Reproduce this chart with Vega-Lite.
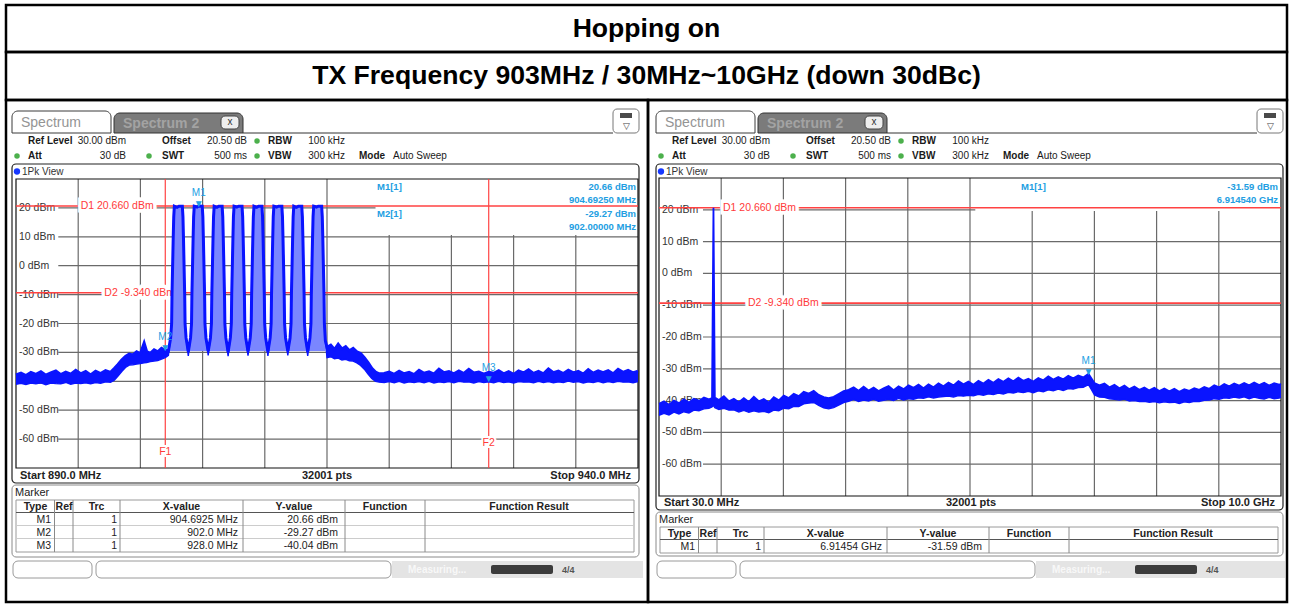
{
"$schema":"https://vega.github.io/schema/vega-lite/v6.json",
"padding":{"left":4,"top":3,"right":5,"bottom":4},
"background":"#ffffff",
"spacing":0,
"bounds":"flush",
"config":{"view":{"stroke":"#000000","strokeWidth":2.5},"axis":{"disable":true},"legend":{"disable":true},"font":"Liberation Sans"},
"datasets":{
"titles":[{"row":1,"t":"Hopping on"},{"row":2,"t":"TX Frequency 903MHz / 30MHz~10GHz (down 30dBc)"}],
"settings":[{"row":"r1","grp":"g1","label":"Ref Level","value":"30.00 dBm","led":0},{"row":"r1","grp":"g2","label":"Offset","value":"20.50 dB","led":0},{"row":"r1","grp":"g3","label":"RBW","value":"100 kHz","led":1},{"row":"r2","grp":"g1","label":"Att","value":"30 dB","led":1},{"row":"r2","grp":"g2","label":"SWT","value":"500 ms","led":1},{"row":"r2","grp":"g3","label":"VBW","value":"300 kHz","led":1},{"row":"r2","grp":"g4","label":"Mode","value":"Auto Sweep","led":0}],
"gridH":[{"db":20,"lab":"20 dBm"},{"db":10,"lab":"10 dBm"},{"db":0,"lab":"0 dBm"},{"db":-10,"lab":"-10 dBm"},{"db":-20,"lab":"-20 dBm"},{"db":-30,"lab":"-30 dBm"},{"db":-40,"lab":"-40 dBm"},{"db":-50,"lab":"-50 dBm"},{"db":-60,"lab":"-60 dBm"}],
"gridVL":[{"f":895},{"f":900},{"f":905},{"f":910},{"f":915},{"f":920},{"f":925},{"f":930},{"f":935}],
"gridVR":[{"f":1027},{"f":2024},{"f":3021},{"f":4018},{"f":5015},{"f":6012},{"f":7009},{"f":8006},{"f":9003}],
"dlines":[{"d":"D1","db":20.66,"lab":"D1  20.660 dBm"},{"d":"D2","db":-9.34,"lab":"D2  -9.340 dBm"}],
"flinesL":[{"fl":"F1","f":902},{"fl":"F2","f":928}],
"markersL":[{"m":"M1","trc":"1","f":904.6925,"db":20.66,"xv":"904.6925 MHz","yv":"20.66 dBm"},{"m":"M2","trc":"1","f":902.0,"db":-29.27,"xv":"902.0 MHz","yv":"-29.27 dBm"},{"m":"M3","trc":"1","f":928.0,"db":-40.04,"xv":"928.0 MHz","yv":"-40.04 dBm"}],
"markersR":[{"m":"M1","trc":"1","f":6914.54,"db":-31.59,"xv":"6.91454 GHz","yv":"-31.59 dBm"}],
"readoutL":[{"line":1,"lab":"M1[1]","val":"20.66 dBm"},{"line":2,"lab":"","val":"904.69250 MHz"},{"line":3,"lab":"M2[1]","val":"-29.27 dBm"},{"line":4,"lab":"","val":"902.00000 MHz"}],
"readoutR":[{"line":1,"lab":"M1[1]","val":"-31.59 dBm"},{"line":2,"lab":"","val":"6.914540 GHz"}],
"spanL":[{"start":"Start 890.0 MHz","pts":"32001 pts","stop":"Stop 940.0 MHz"}],
"spanR":[{"start":"Start 30.0 MHz","pts":"32001 pts","stop":"Stop 10.0 GHz"}],
"traceL":[
{"f":890.0,"lo":-41.0,"hi":-37.8},{"f":890.4,"lo":-40.7,"hi":-37.2},{"f":890.8,"lo":-41.1,"hi":-38.0},{"f":891.2,"lo":-40.6,"hi":-36.9},{"f":891.6,"lo":-40.9,"hi":-37.6},{"f":892.0,"lo":-40.5,"hi":-36.7},{"f":892.4,"lo":-41.2,"hi":-37.9},{"f":892.8,"lo":-40.6,"hi":-37.1},{"f":893.2,"lo":-40.8,"hi":-36.4},{"f":893.6,"lo":-40.9,"hi":-37.7},{"f":894.0,"lo":-40.4,"hi":-36.8},{"f":894.4,"lo":-41.0,"hi":-37.5},{"f":894.8,"lo":-40.6,"hi":-36.2},{"f":895.2,"lo":-40.8,"hi":-37.4},{"f":895.6,"lo":-40.5,"hi":-36.6},{"f":896.0,"lo":-40.9,"hi":-37.8},{"f":896.4,"lo":-40.4,"hi":-36.5},{"f":896.8,"lo":-40.7,"hi":-37.3},{"f":897.2,"lo":-40.2,"hi":-36.3},{"f":897.6,"lo":-40.3,"hi":-36.9},
{"f":897.9,"lo":-39.6,"hi":-35.6},{"f":898.2,"lo":-38.2,"hi":-34.2},{"f":898.5,"lo":-36.6,"hi":-32.6},{"f":898.8,"lo":-35.2,"hi":-31.4},{"f":899.1,"lo":-34.4,"hi":-30.6},
{"f":899.4,"lo":-34.3,"hi":-30.9},{"f":899.7,"lo":-34.0,"hi":-29.8},{"f":900.0,"lo":-33.9,"hi":-30.5},{"f":900.3,"lo":-33.6,"hi":-26.8},{"f":900.5,"lo":-33.5,"hi":-29.7},{"f":900.8,"lo":-33.2,"hi":-30.3},{"f":901.1,"lo":-33.0,"hi":-29.1},{"f":901.4,"lo":-32.8,"hi":-29.8},{"f":901.7,"lo":-32.3,"hi":-28.6},{"f":902.0,"lo":-31.8,"hi":-29.27},
{"f":902.25,"lo":-31.0,"hi":-29.5},{"f":902.43,"lo":-25,"hi":-25},{"f":902.51,"lo":-20,"hi":-20},{"f":902.54,"lo":-10,"hi":-10},{"f":902.59,"lo":0,"hi":0},{"f":902.64,"lo":10,"hi":10},{"f":902.68,"lo":17,"hi":17},{"f":902.73,"lo":20.6,"hi":20.6},{"f":902.95,"lo":20.2,"hi":20.2},{"f":903.10,"lo":20.6,"hi":20.6},{"f":903.37,"lo":20.6,"hi":20.6},{"f":903.42,"lo":17,"hi":17},{"f":903.46,"lo":10,"hi":10},{"f":903.51,"lo":0,"hi":0},{"f":903.56,"lo":-10,"hi":-10},{"f":903.59,"lo":-20,"hi":-20},{"f":903.67,"lo":-25,"hi":-25},{"f":903.85,"lo":-31.2,"hi":-29.8},
{"f":904.03,"lo":-25,"hi":-25},{"f":904.11,"lo":-20,"hi":-20},{"f":904.14,"lo":-10,"hi":-10},{"f":904.19,"lo":0,"hi":0},{"f":904.24,"lo":10,"hi":10},{"f":904.28,"lo":17,"hi":17},{"f":904.33,"lo":20.6,"hi":20.6},{"f":904.55,"lo":20.3,"hi":20.3},{"f":904.69,"lo":20.66,"hi":20.66},{"f":904.97,"lo":20.6,"hi":20.6},{"f":905.02,"lo":17,"hi":17},{"f":905.06,"lo":10,"hi":10},{"f":905.11,"lo":0,"hi":0},{"f":905.16,"lo":-10,"hi":-10},{"f":905.19,"lo":-20,"hi":-20},{"f":905.27,"lo":-25,"hi":-25},{"f":905.45,"lo":-31.0,"hi":-29.6},
{"f":905.63,"lo":-25,"hi":-25},{"f":905.71,"lo":-20,"hi":-20},{"f":905.74,"lo":-10,"hi":-10},{"f":905.79,"lo":0,"hi":0},{"f":905.84,"lo":10,"hi":10},{"f":905.88,"lo":17,"hi":17},{"f":905.93,"lo":20.6,"hi":20.6},{"f":906.15,"lo":20.2,"hi":20.2},{"f":906.30,"lo":20.6,"hi":20.6},{"f":906.57,"lo":20.6,"hi":20.6},{"f":906.62,"lo":17,"hi":17},{"f":906.66,"lo":10,"hi":10},{"f":906.71,"lo":0,"hi":0},{"f":906.76,"lo":-10,"hi":-10},{"f":906.79,"lo":-20,"hi":-20},{"f":906.87,"lo":-25,"hi":-25},{"f":907.05,"lo":-31.3,"hi":-29.9},
{"f":907.23,"lo":-25,"hi":-25},{"f":907.31,"lo":-20,"hi":-20},{"f":907.34,"lo":-10,"hi":-10},{"f":907.39,"lo":0,"hi":0},{"f":907.44,"lo":10,"hi":10},{"f":907.48,"lo":17,"hi":17},{"f":907.53,"lo":20.6,"hi":20.6},{"f":907.75,"lo":20.3,"hi":20.3},{"f":907.90,"lo":20.6,"hi":20.6},{"f":908.17,"lo":20.6,"hi":20.6},{"f":908.22,"lo":17,"hi":17},{"f":908.26,"lo":10,"hi":10},{"f":908.31,"lo":0,"hi":0},{"f":908.36,"lo":-10,"hi":-10},{"f":908.39,"lo":-20,"hi":-20},{"f":908.47,"lo":-25,"hi":-25},{"f":908.65,"lo":-31.1,"hi":-29.7},
{"f":908.83,"lo":-25,"hi":-25},{"f":908.91,"lo":-20,"hi":-20},{"f":908.94,"lo":-10,"hi":-10},{"f":908.99,"lo":0,"hi":0},{"f":909.04,"lo":10,"hi":10},{"f":909.08,"lo":17,"hi":17},{"f":909.13,"lo":20.6,"hi":20.6},{"f":909.35,"lo":20.2,"hi":20.2},{"f":909.50,"lo":20.6,"hi":20.6},{"f":909.77,"lo":20.6,"hi":20.6},{"f":909.82,"lo":17,"hi":17},{"f":909.86,"lo":10,"hi":10},{"f":909.91,"lo":0,"hi":0},{"f":909.96,"lo":-10,"hi":-10},{"f":909.99,"lo":-20,"hi":-20},{"f":910.07,"lo":-25,"hi":-25},{"f":910.25,"lo":-31.2,"hi":-29.8},
{"f":910.43,"lo":-25,"hi":-25},{"f":910.51,"lo":-20,"hi":-20},{"f":910.54,"lo":-10,"hi":-10},{"f":910.59,"lo":0,"hi":0},{"f":910.64,"lo":10,"hi":10},{"f":910.68,"lo":17,"hi":17},{"f":910.73,"lo":20.6,"hi":20.6},{"f":910.95,"lo":20.3,"hi":20.3},{"f":911.10,"lo":20.6,"hi":20.6},{"f":911.37,"lo":20.6,"hi":20.6},{"f":911.42,"lo":17,"hi":17},{"f":911.46,"lo":10,"hi":10},{"f":911.51,"lo":0,"hi":0},{"f":911.56,"lo":-10,"hi":-10},{"f":911.59,"lo":-20,"hi":-20},{"f":911.67,"lo":-25,"hi":-25},{"f":911.85,"lo":-31.0,"hi":-29.6},
{"f":912.03,"lo":-25,"hi":-25},{"f":912.11,"lo":-20,"hi":-20},{"f":912.14,"lo":-10,"hi":-10},{"f":912.19,"lo":0,"hi":0},{"f":912.24,"lo":10,"hi":10},{"f":912.28,"lo":17,"hi":17},{"f":912.33,"lo":20.6,"hi":20.6},{"f":912.55,"lo":20.2,"hi":20.2},{"f":912.70,"lo":20.6,"hi":20.6},{"f":912.97,"lo":20.6,"hi":20.6},{"f":913.02,"lo":17,"hi":17},{"f":913.06,"lo":10,"hi":10},{"f":913.11,"lo":0,"hi":0},{"f":913.16,"lo":-10,"hi":-10},{"f":913.19,"lo":-20,"hi":-20},{"f":913.27,"lo":-25,"hi":-25},{"f":913.45,"lo":-31.2,"hi":-29.8},
{"f":913.63,"lo":-25,"hi":-25},{"f":913.71,"lo":-20,"hi":-20},{"f":913.74,"lo":-10,"hi":-10},{"f":913.79,"lo":0,"hi":0},{"f":913.84,"lo":10,"hi":10},{"f":913.88,"lo":17,"hi":17},{"f":913.93,"lo":20.6,"hi":20.6},{"f":914.15,"lo":20.3,"hi":20.3},{"f":914.30,"lo":20.6,"hi":20.6},{"f":914.57,"lo":20.6,"hi":20.6},{"f":914.62,"lo":17,"hi":17},{"f":914.66,"lo":10,"hi":10},{"f":914.71,"lo":0,"hi":0},{"f":914.76,"lo":-10,"hi":-10},{"f":914.79,"lo":-20,"hi":-20},{"f":914.87,"lo":-26,"hi":-26},
{"f":915.0,"lo":-31.8,"hi":-28.2},{"f":915.3,"lo":-31.5,"hi":-27.5},{"f":915.6,"lo":-32.2,"hi":-29.0},{"f":915.9,"lo":-32.0,"hi":-27.2},{"f":916.2,"lo":-32.6,"hi":-28.8},{"f":916.5,"lo":-32.4,"hi":-28.0},{"f":916.8,"lo":-32.9,"hi":-29.4},{"f":917.1,"lo":-33.0,"hi":-28.6},{"f":917.4,"lo":-33.6,"hi":-29.8},{"f":917.7,"lo":-34.5,"hi":-30.4},{"f":918.0,"lo":-35.8,"hi":-31.8},{"f":918.3,"lo":-37.5,"hi":-33.5},{"f":918.6,"lo":-39.0,"hi":-35.5},{"f":918.9,"lo":-40.0,"hi":-36.8},{"f":919.2,"lo":-40.3,"hi":-37.4},
{"f":919.6,"lo":-40.4,"hi":-37.3},{"f":920.0,"lo":-40.1,"hi":-36.8},{"f":920.4,"lo":-40.5,"hi":-37.6},{"f":920.8,"lo":-40.0,"hi":-36.5},{"f":921.2,"lo":-40.6,"hi":-37.4},{"f":921.6,"lo":-40.2,"hi":-36.9},{"f":922.0,"lo":-40.4,"hi":-37.7},{"f":922.4,"lo":-40.1,"hi":-36.2},{"f":922.8,"lo":-40.5,"hi":-37.2},{"f":923.2,"lo":-40.0,"hi":-36.7},{"f":923.6,"lo":-40.6,"hi":-37.5},{"f":924.0,"lo":-40.2,"hi":-35.8},{"f":924.4,"lo":-40.4,"hi":-37.0},{"f":924.8,"lo":-40.1,"hi":-36.6},{"f":925.2,"lo":-40.5,"hi":-37.4},{"f":925.6,"lo":-40.0,"hi":-36.4},{"f":926.0,"lo":-40.3,"hi":-37.3},{"f":926.4,"lo":-40.2,"hi":-35.9},{"f":926.8,"lo":-40.6,"hi":-37.1},{"f":927.2,"lo":-40.1,"hi":-36.8},{"f":927.6,"lo":-40.4,"hi":-37.5},{"f":928.0,"lo":-40.2,"hi":-36.9},{"f":928.4,"lo":-40.5,"hi":-37.2},{"f":928.8,"lo":-40.0,"hi":-36.3},{"f":929.2,"lo":-40.4,"hi":-37.4},{"f":929.6,"lo":-40.2,"hi":-36.7},{"f":930.0,"lo":-40.6,"hi":-37.6},{"f":930.4,"lo":-40.1,"hi":-36.4},{"f":930.8,"lo":-40.3,"hi":-37.1},{"f":931.2,"lo":-40.2,"hi":-36.0},{"f":931.6,"lo":-40.5,"hi":-37.3},{"f":932.0,"lo":-40.0,"hi":-36.6},{"f":932.4,"lo":-40.4,"hi":-37.4},{"f":932.8,"lo":-40.1,"hi":-35.7},{"f":933.2,"lo":-40.5,"hi":-37.0},{"f":933.6,"lo":-40.2,"hi":-36.5},{"f":934.0,"lo":-40.4,"hi":-37.3},{"f":934.4,"lo":-39.9,"hi":-36.2},{"f":934.8,"lo":-40.3,"hi":-37.1},{"f":935.2,"lo":-40.1,"hi":-36.6},{"f":935.6,"lo":-40.6,"hi":-37.5},{"f":936.0,"lo":-40.2,"hi":-36.0},{"f":936.4,"lo":-40.4,"hi":-37.2},{"f":936.8,"lo":-40.0,"hi":-36.4},{"f":937.2,"lo":-40.5,"hi":-37.0},{"f":937.6,"lo":-40.1,"hi":-36.3},{"f":938.0,"lo":-40.4,"hi":-37.4},{"f":938.4,"lo":-40.0,"hi":-35.9},{"f":938.8,"lo":-40.3,"hi":-36.9},{"f":939.2,"lo":-40.2,"hi":-36.2},{"f":939.6,"lo":-40.5,"hi":-37.1},{"f":940.0,"lo":-40.1,"hi":-36.5}],
"traceR":[
{"f":30,"lo":-44.6,"hi":-41.0},{"f":110,"lo":-44.0,"hi":-40.2},{"f":190,"lo":-44.5,"hi":-41.3},{"f":270,"lo":-43.6,"hi":-40.0},{"f":350,"lo":-44.2,"hi":-40.8},{"f":430,"lo":-43.5,"hi":-39.6},{"f":510,"lo":-43.9,"hi":-40.6},{"f":590,"lo":-43.0,"hi":-39.4},{"f":670,"lo":-43.2,"hi":-40.1},{"f":750,"lo":-42.6,"hi":-39.0},{"f":830,"lo":-42.4,"hi":-39.6},{"f":880,"lo":-42.0,"hi":-39.2},{"f":903,"lo":-41.5,"hi":20.66},{"f":925,"lo":-42.2,"hi":-39.0},{"f":990,"lo":-42.8,"hi":-39.8},{"f":1070,"lo":-42.4,"hi":-38.6},{"f":1150,"lo":-43.0,"hi":-40.2},{"f":1230,"lo":-42.9,"hi":-39.4},{"f":1310,"lo":-43.6,"hi":-40.5},{"f":1390,"lo":-43.1,"hi":-39.2},{"f":1470,"lo":-43.7,"hi":-40.4},{"f":1550,"lo":-43.2,"hi":-38.8},{"f":1630,"lo":-43.6,"hi":-40.2},{"f":1710,"lo":-43.4,"hi":-39.5},{"f":1790,"lo":-43.8,"hi":-40.6},{"f":1870,"lo":-43.0,"hi":-38.9},{"f":1950,"lo":-43.2,"hi":-39.9},{"f":2030,"lo":-42.4,"hi":-38.4},{"f":2110,"lo":-42.6,"hi":-39.2},{"f":2190,"lo":-41.8,"hi":-37.9},{"f":2270,"lo":-41.9,"hi":-38.6},{"f":2350,"lo":-41.0,"hi":-37.2},{"f":2430,"lo":-40.8,"hi":-37.8},{"f":2510,"lo":-40.6,"hi":-36.9},{"f":2590,"lo":-41.5,"hi":-38.2},{"f":2670,"lo":-42.3,"hi":-38.9},{"f":2750,"lo":-42.6,"hi":-39.2},{"f":2830,"lo":-42.2,"hi":-38.8},{"f":2910,"lo":-41.4,"hi":-37.9},{"f":2990,"lo":-40.6,"hi":-37.0},{"f":3070,"lo":-40.2,"hi":-36.6},{"f":3150,"lo":-39.6,"hi":-35.8},{"f":3230,"lo":-40.3,"hi":-36.9},{"f":3310,"lo":-39.8,"hi":-35.6},{"f":3390,"lo":-40.1,"hi":-36.8},{"f":3470,"lo":-39.5,"hi":-35.9},{"f":3550,"lo":-40.2,"hi":-37.0},{"f":3630,"lo":-39.9,"hi":-36.1},{"f":3710,"lo":-39.6,"hi":-35.4},{"f":3790,"lo":-40.0,"hi":-36.7},{"f":3870,"lo":-39.3,"hi":-35.5},{"f":3950,"lo":-39.8,"hi":-36.4},{"f":4030,"lo":-39.4,"hi":-35.2},{"f":4110,"lo":-39.6,"hi":-36.0},{"f":4190,"lo":-39.1,"hi":-35.0},{"f":4270,"lo":-39.3,"hi":-36.1},{"f":4350,"lo":-38.8,"hi":-34.9},{"f":4430,"lo":-39.2,"hi":-35.8},{"f":4510,"lo":-38.9,"hi":-34.6},{"f":4590,"lo":-38.7,"hi":-35.5},{"f":4670,"lo":-38.6,"hi":-34.3},{"f":4750,"lo":-38.9,"hi":-35.2},{"f":4830,"lo":-38.4,"hi":-33.9},{"f":4910,"lo":-38.6,"hi":-34.9},{"f":4990,"lo":-38.3,"hi":-34.0},{"f":5070,"lo":-38.5,"hi":-35.0},{"f":5150,"lo":-38.0,"hi":-33.8},{"f":5230,"lo":-38.3,"hi":-34.6},{"f":5310,"lo":-37.9,"hi":-33.5},{"f":5390,"lo":-38.1,"hi":-34.4},{"f":5470,"lo":-37.6,"hi":-33.2},{"f":5550,"lo":-37.9,"hi":-34.1},{"f":5630,"lo":-37.4,"hi":-33.0},{"f":5710,"lo":-37.6,"hi":-33.9},{"f":5790,"lo":-37.2,"hi":-32.8},{"f":5870,"lo":-37.5,"hi":-33.8},{"f":5950,"lo":-37.1,"hi":-33.1},{"f":6030,"lo":-37.5,"hi":-34.0},{"f":6110,"lo":-36.9,"hi":-32.9},{"f":6190,"lo":-37.2,"hi":-33.6},{"f":6270,"lo":-36.6,"hi":-32.4},{"f":6350,"lo":-36.9,"hi":-33.4},{"f":6430,"lo":-36.4,"hi":-32.6},{"f":6510,"lo":-36.8,"hi":-33.3},{"f":6590,"lo":-36.2,"hi":-32.2},{"f":6670,"lo":-36.4,"hi":-33.0},{"f":6750,"lo":-35.9,"hi":-32.1},{"f":6830,"lo":-35.8,"hi":-32.7},{"f":6914,"lo":-35.0,"hi":-31.59},{"f":6960,"lo":-36.5,"hi":-33.0},{"f":7010,"lo":-38.2,"hi":-34.5},{"f":7090,"lo":-38.9,"hi":-35.2},{"f":7170,"lo":-39.0,"hi":-34.6},{"f":7250,"lo":-39.4,"hi":-35.8},{"f":7330,"lo":-39.6,"hi":-35.0},{"f":7410,"lo":-39.8,"hi":-36.1},{"f":7490,"lo":-39.5,"hi":-35.3},{"f":7570,"lo":-40.1,"hi":-36.4},{"f":7650,"lo":-40.0,"hi":-35.6},{"f":7730,"lo":-40.3,"hi":-36.6},{"f":7810,"lo":-40.2,"hi":-35.9},{"f":7890,"lo":-40.5,"hi":-36.8},{"f":7970,"lo":-40.3,"hi":-36.0},{"f":8050,"lo":-40.7,"hi":-37.0},{"f":8130,"lo":-40.4,"hi":-36.2},{"f":8210,"lo":-40.6,"hi":-37.1},{"f":8290,"lo":-40.5,"hi":-36.3},{"f":8370,"lo":-40.9,"hi":-37.2},{"f":8450,"lo":-40.4,"hi":-36.4},{"f":8530,"lo":-40.6,"hi":-36.9},{"f":8610,"lo":-40.2,"hi":-36.1},{"f":8690,"lo":-40.3,"hi":-36.6},{"f":8770,"lo":-39.9,"hi":-35.7},{"f":8850,"lo":-39.8,"hi":-36.3},{"f":8930,"lo":-39.4,"hi":-35.2},{"f":9010,"lo":-39.6,"hi":-35.8},{"f":9090,"lo":-39.1,"hi":-34.8},{"f":9170,"lo":-39.3,"hi":-35.5},{"f":9250,"lo":-38.9,"hi":-34.6},{"f":9330,"lo":-39.2,"hi":-35.3},{"f":9410,"lo":-38.8,"hi":-34.5},{"f":9490,"lo":-39.4,"hi":-35.2},{"f":9570,"lo":-38.9,"hi":-34.3},{"f":9650,"lo":-39.3,"hi":-35.1},{"f":9730,"lo":-39.5,"hi":-34.4},{"f":9810,"lo":-39.0,"hi":-35.3},{"f":9890,"lo":-39.4,"hi":-34.5},{"f":9970,"lo":-39.2,"hi":-35.0},{"f":10000,"lo":-39.0,"hi":-34.7}]
},
"vconcat":[
{"width":1281,"height":47,"data":{"name":"titles"},"transform":[{"filter":"datum.row==1"}],"mark":{"type":"text","fontSize":26.6,"fontWeight":"bold","fill":"#000000"},"encoding":{"x":{"datum":0.5,"type":"quantitative","scale":{"domain":[0,1],"nice":false,"zero":false}},"y":{"datum":0.5,"type":"quantitative","scale":{"domain":[0,1],"nice":false,"zero":false}},"text":{"field":"t"}}},
{"width":1281,"height":48,"data":{"name":"titles"},"transform":[{"filter":"datum.row==2"}],"mark":{"type":"text","fontSize":26.6,"fontWeight":"bold","fill":"#000000"},"encoding":{"x":{"datum":0.5,"type":"quantitative","scale":{"domain":[0,1],"nice":false,"zero":false}},"y":{"datum":0.5,"type":"quantitative","scale":{"domain":[0,1],"nice":false,"zero":false}},"text":{"field":"t"}}},
{"hconcat":[
{"width":642,"height":502,"resolve":{"scale":{"x":"independent","y":"independent"}},"layer":[
{"data":{"values":[{"k":"tab1"}]},"mark":{"type":"rect","fill":"#ffffff","stroke":"#3a3a3a","strokeWidth":1,"cornerRadiusTopLeft":6,"cornerRadiusTopRight":6},"encoding":{"x":{"datum":6,"type":"quantitative","scale":{"domain":[0,642],"range":[0,642],"nice":false,"zero":false}},"x2":{"datum":105},"y":{"datum":11,"type":"quantitative","scale":{"domain":[0,502],"range":[0,502],"nice":false,"zero":false}},"y2":{"datum":33}}},
{"data":{"values":[{"k":"tab2"}]},"mark":{"type":"rect","fill":"#7b7b7b","stroke":"#333333","strokeWidth":1,"cornerRadiusTopLeft":6,"cornerRadiusTopRight":6},"encoding":{"x":{"datum":108,"type":"quantitative","scale":{"domain":[0,642],"range":[0,642],"nice":false,"zero":false}},"x2":{"datum":237},"y":{"datum":13,"type":"quantitative","scale":{"domain":[0,502],"range":[0,502],"nice":false,"zero":false}},"y2":{"datum":33}}},
{"data":{"values":[{"k":"xbtn"}]},"mark":{"type":"rect","fill":"#eeeeee","stroke":"#444444","strokeWidth":1,"cornerRadius":4},"encoding":{"x":{"datum":215,"type":"quantitative","scale":{"domain":[0,642],"range":[0,642],"nice":false,"zero":false}},"x2":{"datum":233},"y":{"datum":16,"type":"quantitative","scale":{"domain":[0,502],"range":[0,502],"nice":false,"zero":false}},"y2":{"datum":29}}},
{"data":{"values":[{"k":"icon"}]},"mark":{"type":"rect","fill":"#ffffff","stroke":"#777777","strokeWidth":1,"cornerRadius":4},"encoding":{"x":{"datum":607,"type":"quantitative","scale":{"domain":[0,642],"range":[0,642],"nice":false,"zero":false}},"x2":{"datum":633},"y":{"datum":9,"type":"quantitative","scale":{"domain":[0,502],"range":[0,502],"nice":false,"zero":false}},"y2":{"datum":33}}},
{"data":{"values":[{"k":"icon2"}]},"mark":{"type":"rect","fill":"#4a4a4a"},"encoding":{"x":{"datum":614,"type":"quantitative","scale":{"domain":[0,642],"range":[0,642],"nice":false,"zero":false}},"x2":{"datum":626},"y":{"datum":13,"type":"quantitative","scale":{"domain":[0,502],"range":[0,502],"nice":false,"zero":false}},"y2":{"datum":18}}},
{"data":{"values":[{"k":"bar"}]},"mark":{"type":"rule","stroke":"#333333","strokeWidth":1},"encoding":{"x":{"datum":237,"type":"quantitative","scale":{"domain":[0,642],"range":[0,642],"nice":false,"zero":false}},"x2":{"datum":607},"y":{"datum":33,"type":"quantitative","scale":{"domain":[0,502],"range":[0,502],"nice":false,"zero":false}}}},
{"data":{"values":[{"t":"Spectrum"}]},"mark":{"type":"text","align":"left","fontSize":14,"fill":"#949494"},"encoding":{"x":{"datum":15,"type":"quantitative","scale":{"domain":[0,642],"range":[0,642],"nice":false,"zero":false}},"y":{"datum":23,"type":"quantitative","scale":{"domain":[0,502],"range":[0,502],"nice":false,"zero":false}},"text":{"field":"t"}}},
{"data":{"values":[{"t":"Spectrum 2"}]},"mark":{"type":"text","align":"left","fontSize":14,"fontWeight":"bold","fill":"#a3a3a3"},"encoding":{"x":{"datum":117,"type":"quantitative","scale":{"domain":[0,642],"range":[0,642],"nice":false,"zero":false}},"y":{"datum":23.5,"type":"quantitative","scale":{"domain":[0,502],"range":[0,502],"nice":false,"zero":false}},"text":{"field":"t"}}},
{"data":{"values":[{"t":"x"}]},"mark":{"type":"text","align":"center","fontSize":10,"fill":"#333333"},"encoding":{"x":{"datum":224,"type":"quantitative","scale":{"domain":[0,642],"range":[0,642],"nice":false,"zero":false}},"y":{"datum":22,"type":"quantitative","scale":{"domain":[0,502],"range":[0,502],"nice":false,"zero":false}},"text":{"field":"t"}}},
{"data":{"values":[{"t":"▽"}]},"mark":{"type":"text","align":"center","fontSize":9,"fill":"#444444"},"encoding":{"x":{"datum":620,"type":"quantitative","scale":{"domain":[0,642],"range":[0,642],"nice":false,"zero":false}},"y":{"datum":26,"type":"quantitative","scale":{"domain":[0,502],"range":[0,502],"nice":false,"zero":false}},"text":{"field":"t"}}},
{"data":{"name":"settings"},"layer":[
{"transform":[{"filter":"datum.grp=='g1'"}],"mark":{"type":"text","align":"left","fontSize":10,"fontWeight":"bold","fill":"#1a1a1a"},"encoding":{"x":{"datum":22,"type":"quantitative","scale":{"domain":[0,642],"range":[0,642],"nice":false,"zero":false}},"y":{"field":"row","type":"nominal","scale":{"type":"point","domain":["r1","r2"],"range":[41,56],"padding":0}},"text":{"field":"label"}}},
{"transform":[{"filter":"datum.grp=='g1'"}],"mark":{"type":"text","align":"right","fontSize":10,"fill":"#1a1a1a"},"encoding":{"x":{"datum":120,"type":"quantitative","scale":{"domain":[0,642],"range":[0,642],"nice":false,"zero":false}},"y":{"field":"row","type":"nominal","scale":{"type":"point","domain":["r1","r2"],"range":[41,56],"padding":0}},"text":{"field":"value"}}},
{"transform":[{"filter":"datum.grp=='g2'"}],"mark":{"type":"text","align":"left","fontSize":10,"fontWeight":"bold","fill":"#1a1a1a"},"encoding":{"x":{"datum":156,"type":"quantitative","scale":{"domain":[0,642],"range":[0,642],"nice":false,"zero":false}},"y":{"field":"row","type":"nominal","scale":{"type":"point","domain":["r1","r2"],"range":[41,56],"padding":0}},"text":{"field":"label"}}},
{"transform":[{"filter":"datum.grp=='g2'"}],"mark":{"type":"text","align":"right","fontSize":10,"fill":"#1a1a1a"},"encoding":{"x":{"datum":241,"type":"quantitative","scale":{"domain":[0,642],"range":[0,642],"nice":false,"zero":false}},"y":{"field":"row","type":"nominal","scale":{"type":"point","domain":["r1","r2"],"range":[41,56],"padding":0}},"text":{"field":"value"}}},
{"transform":[{"filter":"datum.grp=='g3'"}],"mark":{"type":"text","align":"left","fontSize":10,"fontWeight":"bold","fill":"#1a1a1a"},"encoding":{"x":{"datum":262,"type":"quantitative","scale":{"domain":[0,642],"range":[0,642],"nice":false,"zero":false}},"y":{"field":"row","type":"nominal","scale":{"type":"point","domain":["r1","r2"],"range":[41,56],"padding":0}},"text":{"field":"label"}}},
{"transform":[{"filter":"datum.grp=='g3'"}],"mark":{"type":"text","align":"right","fontSize":10,"fill":"#1a1a1a"},"encoding":{"x":{"datum":339,"type":"quantitative","scale":{"domain":[0,642],"range":[0,642],"nice":false,"zero":false}},"y":{"field":"row","type":"nominal","scale":{"type":"point","domain":["r1","r2"],"range":[41,56],"padding":0}},"text":{"field":"value"}}},
{"transform":[{"filter":"datum.grp=='g4'"}],"mark":{"type":"text","align":"left","fontSize":10,"fontWeight":"bold","fill":"#1a1a1a"},"encoding":{"x":{"datum":353,"type":"quantitative","scale":{"domain":[0,642],"range":[0,642],"nice":false,"zero":false}},"y":{"field":"row","type":"nominal","scale":{"type":"point","domain":["r1","r2"],"range":[41,56],"padding":0}},"text":{"field":"label"}}},
{"transform":[{"filter":"datum.grp=='g4'"}],"mark":{"type":"text","align":"left","fontSize":10,"fill":"#1a1a1a"},"encoding":{"x":{"datum":387,"type":"quantitative","scale":{"domain":[0,642],"range":[0,642],"nice":false,"zero":false}},"y":{"field":"row","type":"nominal","scale":{"type":"point","domain":["r1","r2"],"range":[41,56],"padding":0}},"text":{"field":"value"}}},
{"transform":[{"filter":"datum.grp=='g1' && datum.led==1"}],"mark":{"type":"point","filled":true,"size":30,"color":"#4cb04c","opacity":1},"encoding":{"x":{"datum":11,"type":"quantitative","scale":{"domain":[0,642],"range":[0,642],"nice":false,"zero":false}},"y":{"field":"row","type":"nominal","scale":{"type":"point","domain":["r1","r2"],"range":[41,56],"padding":0}}}},
{"transform":[{"filter":"datum.grp=='g2' && datum.led==1"}],"mark":{"type":"point","filled":true,"size":30,"color":"#4cb04c","opacity":1},"encoding":{"x":{"datum":143,"type":"quantitative","scale":{"domain":[0,642],"range":[0,642],"nice":false,"zero":false}},"y":{"field":"row","type":"nominal","scale":{"type":"point","domain":["r1","r2"],"range":[41,56],"padding":0}}}},
{"transform":[{"filter":"datum.grp=='g3' && datum.led==1"}],"mark":{"type":"point","filled":true,"size":30,"color":"#4cb04c","opacity":1},"encoding":{"x":{"datum":251,"type":"quantitative","scale":{"domain":[0,642],"range":[0,642],"nice":false,"zero":false}},"y":{"field":"row","type":"nominal","scale":{"type":"point","domain":["r1","r2"],"range":[41,56],"padding":0}}}}
]},
{"data":{"values":[{"k":"frame"}]},"mark":{"type":"rect","fill":"#ffffff","stroke":"#222222","strokeWidth":1.2,"cornerRadius":4},"encoding":{"x":{"datum":6,"type":"quantitative","scale":{"domain":[0,642],"range":[0,642],"nice":false,"zero":false}},"x2":{"datum":633},"y":{"datum":64,"type":"quantitative","scale":{"domain":[0,502],"range":[0,502],"nice":false,"zero":false}},"y2":{"datum":383}}},
{"data":{"values":[{"t":"1Pk View"}]},"mark":{"type":"text","align":"left","fontSize":10,"fill":"#333333"},"encoding":{"x":{"datum":16,"type":"quantitative","scale":{"domain":[0,642],"range":[0,642],"nice":false,"zero":false}},"y":{"datum":71.5,"type":"quantitative","scale":{"domain":[0,502],"range":[0,502],"nice":false,"zero":false}},"text":{"field":"t"}}},
{"data":{"values":[{"k":"trc1"}]},"mark":{"type":"point","filled":true,"size":40,"color":"#1638ff","opacity":1},"encoding":{"x":{"datum":11,"type":"quantitative","scale":{"domain":[0,642],"range":[0,642],"nice":false,"zero":false}},"y":{"datum":71.5,"type":"quantitative","scale":{"domain":[0,502],"range":[0,502],"nice":false,"zero":false}}}},
{"layer":[
{"data":{"name":"gridVL"},"mark":{"type":"rule","stroke":"#6a6a6a","strokeWidth":1.2},"encoding":{"x":{"field":"f","type":"quantitative","scale":{"domain":[890,940],"range":[10,632],"nice":false,"zero":false}},"y":{"datum":-70,"type":"quantitative","scale":{"domain":[-70,30],"range":[368,79],"nice":false,"zero":false}},"y2":{"datum":30}}},
{"data":{"name":"gridH"},"mark":{"type":"rule","stroke":"#6a6a6a","strokeWidth":1.2},"encoding":{"x":{"datum":893.4,"type":"quantitative","scale":{"domain":[890,940],"range":[10,632],"nice":false,"zero":false}},"x2":{"datum":940},"y":{"field":"db","type":"quantitative","scale":{"domain":[-70,30],"range":[368,79],"nice":false,"zero":false}}}},
{"data":{"name":"gridH"},"mark":{"type":"text","align":"left","dx":3,"fontSize":10.5,"fill":"#333333"},"encoding":{"x":{"datum":890,"type":"quantitative","scale":{"domain":[890,940],"range":[10,632],"nice":false,"zero":false}},"y":{"field":"db","type":"quantitative","scale":{"domain":[-70,30],"range":[368,79],"nice":false,"zero":false}},"text":{"field":"lab"}}},
{"data":{"values":[{"k":"readoutbox"}]},"mark":{"type":"rect","fill":"#ffffff"},"encoding":{"x":{"datum":918.9,"type":"quantitative","scale":{"domain":[890,940],"range":[10,632],"nice":false,"zero":false}},"x2":{"datum":940},"y":{"datum":10.6,"type":"quantitative","scale":{"domain":[-70,30],"range":[368,79],"nice":false,"zero":false}},"y2":{"datum":30}}},
{"data":{"values":[{"k":"border"}]},"mark":{"type":"rect","fill":"transparent","stroke":"#111111","strokeWidth":1.2},"encoding":{"x":{"datum":890,"type":"quantitative","scale":{"domain":[890,940],"range":[10,632],"nice":false,"zero":false}},"x2":{"datum":940},"y":{"datum":-70,"type":"quantitative","scale":{"domain":[-70,30],"range":[368,79],"nice":false,"zero":false}},"y2":{"datum":30}}},
{"data":{"name":"dlines"},"mark":{"type":"rule","stroke":"#ff4242","strokeWidth":1.6},"encoding":{"x":{"datum":890,"type":"quantitative","scale":{"domain":[890,940],"range":[10,632],"nice":false,"zero":false}},"x2":{"datum":940},"y":{"field":"db","type":"quantitative","scale":{"domain":[-70,30],"range":[368,79],"nice":false,"zero":false}}}},
{"data":{"name":"flinesL"},"mark":{"type":"rule","stroke":"#ff4242","strokeWidth":1.2},"encoding":{"x":{"field":"f","type":"quantitative","scale":{"domain":[890,940],"range":[10,632],"nice":false,"zero":false}},"y":{"datum":-70,"type":"quantitative","scale":{"domain":[-70,30],"range":[368,79],"nice":false,"zero":false}},"y2":{"datum":30}}},
{"data":{"name":"dlines"},"transform":[{"filter":"datum.d=='D1'"}],"mark":{"type":"text","align":"left","fontSize":10.5,"fill":"#ffffff","stroke":"#ffffff","strokeWidth":7},"encoding":{"x":{"datum":895.2,"type":"quantitative","scale":{"domain":[890,940],"range":[10,632],"nice":false,"zero":false}},"y":{"field":"db","type":"quantitative","scale":{"domain":[-70,30],"range":[368,79],"nice":false,"zero":false}},"text":{"field":"lab"}}},
{"data":{"name":"dlines"},"transform":[{"filter":"datum.d=='D1'"}],"mark":{"type":"text","align":"left","fontSize":10.5,"fill":"#ff3a3a"},"encoding":{"x":{"datum":895.2,"type":"quantitative","scale":{"domain":[890,940],"range":[10,632],"nice":false,"zero":false}},"y":{"field":"db","type":"quantitative","scale":{"domain":[-70,30],"range":[368,79],"nice":false,"zero":false}},"text":{"field":"lab"}}},
{"data":{"name":"dlines"},"transform":[{"filter":"datum.d=='D2'"}],"mark":{"type":"text","align":"left","fontSize":10.5,"fill":"#ffffff","stroke":"#ffffff","strokeWidth":7},"encoding":{"x":{"datum":897.1,"type":"quantitative","scale":{"domain":[890,940],"range":[10,632],"nice":false,"zero":false}},"y":{"field":"db","type":"quantitative","scale":{"domain":[-70,30],"range":[368,79],"nice":false,"zero":false}},"text":{"field":"lab"}}},
{"data":{"name":"dlines"},"transform":[{"filter":"datum.d=='D2'"}],"mark":{"type":"text","align":"left","fontSize":10.5,"fill":"#ff3a3a"},"encoding":{"x":{"datum":897.1,"type":"quantitative","scale":{"domain":[890,940],"range":[10,632],"nice":false,"zero":false}},"y":{"field":"db","type":"quantitative","scale":{"domain":[-70,30],"range":[368,79],"nice":false,"zero":false}},"text":{"field":"lab"}}},
{"data":{"name":"flinesL"},"transform":[{"filter":"datum.fl=='F1'"}],"mark":{"type":"text","align":"center","fontSize":10.5,"fill":"#ffffff","stroke":"#ffffff","strokeWidth":4},"encoding":{"x":{"field":"f","type":"quantitative","scale":{"domain":[890,940],"range":[10,632],"nice":false,"zero":false}},"y":{"datum":-64.5,"type":"quantitative","scale":{"domain":[-70,30],"range":[368,79],"nice":false,"zero":false}},"text":{"field":"fl"}}},
{"data":{"name":"flinesL"},"transform":[{"filter":"datum.fl=='F1'"}],"mark":{"type":"text","align":"center","fontSize":10.5,"fill":"#ff3a3a"},"encoding":{"x":{"field":"f","type":"quantitative","scale":{"domain":[890,940],"range":[10,632],"nice":false,"zero":false}},"y":{"datum":-64.5,"type":"quantitative","scale":{"domain":[-70,30],"range":[368,79],"nice":false,"zero":false}},"text":{"field":"fl"}}},
{"data":{"name":"flinesL"},"transform":[{"filter":"datum.fl=='F2'"}],"mark":{"type":"text","align":"center","fontSize":10.5,"fill":"#ffffff","stroke":"#ffffff","strokeWidth":4},"encoding":{"x":{"field":"f","type":"quantitative","scale":{"domain":[890,940],"range":[10,632],"nice":false,"zero":false}},"y":{"datum":-61.3,"type":"quantitative","scale":{"domain":[-70,30],"range":[368,79],"nice":false,"zero":false}},"text":{"field":"fl"}}},
{"data":{"name":"flinesL"},"transform":[{"filter":"datum.fl=='F2'"}],"mark":{"type":"text","align":"center","fontSize":10.5,"fill":"#ff3a3a"},"encoding":{"x":{"field":"f","type":"quantitative","scale":{"domain":[890,940],"range":[10,632],"nice":false,"zero":false}},"y":{"datum":-61.3,"type":"quantitative","scale":{"domain":[-70,30],"range":[368,79],"nice":false,"zero":false}},"text":{"field":"fl"}}},
{"data":{"name":"traceL"},"transform":[{"filter":"datum.f>=902.25 && datum.f<=914.87"}],"mark":{"type":"area","fill":"#7a86ff","opacity":1},"encoding":{"x":{"field":"f","type":"quantitative","scale":{"domain":[890,940],"range":[10,632],"nice":false,"zero":false}},"y":{"field":"hi","type":"quantitative","scale":{"domain":[-70,30],"range":[368,79],"nice":false,"zero":false}},"y2":{"datum":-29.5}}},
{"data":{"name":"traceL"},"mark":{"type":"area","fill":"#0a14ff","opacity":1},"encoding":{"x":{"field":"f","type":"quantitative","scale":{"domain":[890,940],"range":[10,632],"nice":false,"zero":false}},"y":{"field":"lo","type":"quantitative","scale":{"domain":[-70,30],"range":[368,79],"nice":false,"zero":false}},"y2":{"field":"hi"}}},
{"data":{"name":"traceL"},"mark":{"type":"line","stroke":"#0a14ff","strokeWidth":3},"encoding":{"x":{"field":"f","type":"quantitative","scale":{"domain":[890,940],"range":[10,632],"nice":false,"zero":false}},"y":{"field":"hi","type":"quantitative","scale":{"domain":[-70,30],"range":[368,79],"nice":false,"zero":false}}}},
{"data":{"name":"traceL"},"mark":{"type":"line","stroke":"#0a14ff","strokeWidth":1.4},"encoding":{"x":{"field":"f","type":"quantitative","scale":{"domain":[890,940],"range":[10,632],"nice":false,"zero":false}},"y":{"field":"lo","type":"quantitative","scale":{"domain":[-70,30],"range":[368,79],"nice":false,"zero":false}}}},
{"data":{"name":"markersL"},"mark":{"type":"text","text":"▼","fontSize":10,"fill":"#22a0e3","baseline":"alphabetic","dy":1},"encoding":{"x":{"field":"f","type":"quantitative","scale":{"domain":[890,940],"range":[10,632],"nice":false,"zero":false}},"y":{"field":"db","type":"quantitative","scale":{"domain":[-70,30],"range":[368,79],"nice":false,"zero":false}}}},
{"data":{"name":"markersL"},"mark":{"type":"text","fontSize":10,"fill":"#22a0e3","baseline":"bottom","dy":-8},"encoding":{"x":{"field":"f","type":"quantitative","scale":{"domain":[890,940],"range":[10,632],"nice":false,"zero":false}},"y":{"field":"db","type":"quantitative","scale":{"domain":[-70,30],"range":[368,79],"nice":false,"zero":false}},"text":{"field":"m"}}}
]},
{"data":{"name":"readoutL"},"layer":[
{"mark":{"type":"text","align":"left","fontSize":9.5,"fontWeight":"bold","fill":"#229ee2"},"encoding":{"x":{"datum":371,"type":"quantitative","scale":{"domain":[0,642],"range":[0,642],"nice":false,"zero":false}},"y":{"field":"line","type":"ordinal","scale":{"type":"point","domain":[1,2,3,4],"range":[87,127],"padding":0}},"text":{"field":"lab"}}},
{"mark":{"type":"text","align":"right","fontSize":9.5,"fontWeight":"bold","fill":"#229ee2"},"encoding":{"x":{"datum":630,"type":"quantitative","scale":{"domain":[0,642],"range":[0,642],"nice":false,"zero":false}},"y":{"field":"line","type":"ordinal","scale":{"type":"point","domain":[1,2,3,4],"range":[87,127],"padding":0}},"text":{"field":"val"}}}
]},
{"data":{"name":"spanL"},"mark":{"type":"text","align":"left","fontSize":11,"fontWeight":"bold","fill":"#222222"},"encoding":{"x":{"datum":14,"type":"quantitative","scale":{"domain":[0,642],"range":[0,642],"nice":false,"zero":false}},"y":{"datum":375.5,"type":"quantitative","scale":{"domain":[0,502],"range":[0,502],"nice":false,"zero":false}},"text":{"field":"start"}}},
{"data":{"name":"spanL"},"mark":{"type":"text","align":"center","fontSize":11,"fontWeight":"bold","fill":"#222222"},"encoding":{"x":{"datum":321,"type":"quantitative","scale":{"domain":[0,642],"range":[0,642],"nice":false,"zero":false}},"y":{"datum":375.5,"type":"quantitative","scale":{"domain":[0,502],"range":[0,502],"nice":false,"zero":false}},"text":{"field":"pts"}}},
{"data":{"name":"spanL"},"mark":{"type":"text","align":"right","fontSize":11,"fontWeight":"bold","fill":"#222222"},"encoding":{"x":{"datum":625,"type":"quantitative","scale":{"domain":[0,642],"range":[0,642],"nice":false,"zero":false}},"y":{"datum":375.5,"type":"quantitative","scale":{"domain":[0,502],"range":[0,502],"nice":false,"zero":false}},"text":{"field":"stop"}}},
{"data":{"values":[{"k":"mbox"}]},"mark":{"type":"rect","fill":"#ffffff","stroke":"#8a8a8a","strokeWidth":1,"cornerRadius":4},"encoding":{"x":{"datum":6,"type":"quantitative","scale":{"domain":[0,642],"range":[0,642],"nice":false,"zero":false}},"x2":{"datum":633},"y":{"datum":385,"type":"quantitative","scale":{"domain":[0,502],"range":[0,502],"nice":false,"zero":false}},"y2":{"datum":457}}},
{"data":{"values":[{"t":"Marker"}]},"mark":{"type":"text","align":"left","fontSize":11,"fill":"#222222"},"encoding":{"x":{"datum":9,"type":"quantitative","scale":{"domain":[0,642],"range":[0,642],"nice":false,"zero":false}},"y":{"datum":392.5,"type":"quantitative","scale":{"domain":[0,502],"range":[0,502],"nice":false,"zero":false}},"text":{"field":"t"}}},
{"data":{"values":[{"k":"tbl"}]},"mark":{"type":"rect","fill":"#ffffff","stroke":"#9a9a9a","strokeWidth":1},"encoding":{"x":{"datum":10,"type":"quantitative","scale":{"domain":[0,642],"range":[0,642],"nice":false,"zero":false}},"x2":{"datum":628},"y":{"datum":400,"type":"quantitative","scale":{"domain":[0,502],"range":[0,502],"nice":false,"zero":false}},"y2":{"datum":452}}},
{"data":{"values":[{"k":"hline"}]},"mark":{"type":"rule","stroke":"#555555","strokeWidth":1.2},"encoding":{"x":{"datum":10,"type":"quantitative","scale":{"domain":[0,642],"range":[0,642],"nice":false,"zero":false}},"x2":{"datum":628},"y":{"datum":412.5,"type":"quantitative","scale":{"domain":[0,502],"range":[0,502],"nice":false,"zero":false}}}},
{"data":{"values":[{"k":"row1"}]},"mark":{"type":"rule","stroke":"#cccccc","strokeWidth":1},"encoding":{"x":{"datum":10,"type":"quantitative","scale":{"domain":[0,642],"range":[0,642],"nice":false,"zero":false}},"x2":{"datum":628},"y":{"datum":425.5,"type":"quantitative","scale":{"domain":[0,502],"range":[0,502],"nice":false,"zero":false}}}},
{"data":{"values":[{"k":"row2"}]},"mark":{"type":"rule","stroke":"#cccccc","strokeWidth":1},"encoding":{"x":{"datum":10,"type":"quantitative","scale":{"domain":[0,642],"range":[0,642],"nice":false,"zero":false}},"x2":{"datum":628},"y":{"datum":438.5,"type":"quantitative","scale":{"domain":[0,502],"range":[0,502],"nice":false,"zero":false}}}},
{"data":{"values":[{"k":"s1"}]},"mark":{"type":"rule","stroke":"#8a8a8a","strokeWidth":1},"encoding":{"x":{"datum":48.5,"type":"quantitative","scale":{"domain":[0,642],"range":[0,642],"nice":false,"zero":false}},"y":{"datum":400,"type":"quantitative","scale":{"domain":[0,502],"range":[0,502],"nice":false,"zero":false}},"y2":{"datum":452}}},
{"data":{"values":[{"k":"s2"}]},"mark":{"type":"rule","stroke":"#8a8a8a","strokeWidth":1},"encoding":{"x":{"datum":67,"type":"quantitative","scale":{"domain":[0,642],"range":[0,642],"nice":false,"zero":false}},"y":{"datum":400,"type":"quantitative","scale":{"domain":[0,502],"range":[0,502],"nice":false,"zero":false}},"y2":{"datum":452}}},
{"data":{"values":[{"k":"s3"}]},"mark":{"type":"rule","stroke":"#8a8a8a","strokeWidth":1},"encoding":{"x":{"datum":114,"type":"quantitative","scale":{"domain":[0,642],"range":[0,642],"nice":false,"zero":false}},"y":{"datum":400,"type":"quantitative","scale":{"domain":[0,502],"range":[0,502],"nice":false,"zero":false}},"y2":{"datum":452}}},
{"data":{"values":[{"k":"s4"}]},"mark":{"type":"rule","stroke":"#8a8a8a","strokeWidth":1},"encoding":{"x":{"datum":237,"type":"quantitative","scale":{"domain":[0,642],"range":[0,642],"nice":false,"zero":false}},"y":{"datum":400,"type":"quantitative","scale":{"domain":[0,502],"range":[0,502],"nice":false,"zero":false}},"y2":{"datum":452}}},
{"data":{"values":[{"k":"s5"}]},"mark":{"type":"rule","stroke":"#8a8a8a","strokeWidth":1},"encoding":{"x":{"datum":339,"type":"quantitative","scale":{"domain":[0,642],"range":[0,642],"nice":false,"zero":false}},"y":{"datum":400,"type":"quantitative","scale":{"domain":[0,502],"range":[0,502],"nice":false,"zero":false}},"y2":{"datum":452}}},
{"data":{"values":[{"k":"s6"}]},"mark":{"type":"rule","stroke":"#8a8a8a","strokeWidth":1},"encoding":{"x":{"datum":419,"type":"quantitative","scale":{"domain":[0,642],"range":[0,642],"nice":false,"zero":false}},"y":{"datum":400,"type":"quantitative","scale":{"domain":[0,502],"range":[0,502],"nice":false,"zero":false}},"y2":{"datum":452}}},
{"data":{"values":[{"h":"Type"}]},"mark":{"type":"text","align":"center","fontSize":10.5,"fontWeight":"bold","fill":"#222222"},"encoding":{"x":{"datum":29.5,"type":"quantitative","scale":{"domain":[0,642],"range":[0,642],"nice":false,"zero":false}},"y":{"datum":406.5,"type":"quantitative","scale":{"domain":[0,502],"range":[0,502],"nice":false,"zero":false}},"text":{"field":"h"}}},
{"data":{"values":[{"h":"Ref"}]},"mark":{"type":"text","align":"center","fontSize":10.5,"fontWeight":"bold","fill":"#222222"},"encoding":{"x":{"datum":58,"type":"quantitative","scale":{"domain":[0,642],"range":[0,642],"nice":false,"zero":false}},"y":{"datum":406.5,"type":"quantitative","scale":{"domain":[0,502],"range":[0,502],"nice":false,"zero":false}},"text":{"field":"h"}}},
{"data":{"values":[{"h":"Trc"}]},"mark":{"type":"text","align":"center","fontSize":10.5,"fontWeight":"bold","fill":"#222222"},"encoding":{"x":{"datum":90.5,"type":"quantitative","scale":{"domain":[0,642],"range":[0,642],"nice":false,"zero":false}},"y":{"datum":406.5,"type":"quantitative","scale":{"domain":[0,502],"range":[0,502],"nice":false,"zero":false}},"text":{"field":"h"}}},
{"data":{"values":[{"h":"X-value"}]},"mark":{"type":"text","align":"center","fontSize":10.5,"fontWeight":"bold","fill":"#222222"},"encoding":{"x":{"datum":175.5,"type":"quantitative","scale":{"domain":[0,642],"range":[0,642],"nice":false,"zero":false}},"y":{"datum":406.5,"type":"quantitative","scale":{"domain":[0,502],"range":[0,502],"nice":false,"zero":false}},"text":{"field":"h"}}},
{"data":{"values":[{"h":"Y-value"}]},"mark":{"type":"text","align":"center","fontSize":10.5,"fontWeight":"bold","fill":"#222222"},"encoding":{"x":{"datum":288,"type":"quantitative","scale":{"domain":[0,642],"range":[0,642],"nice":false,"zero":false}},"y":{"datum":406.5,"type":"quantitative","scale":{"domain":[0,502],"range":[0,502],"nice":false,"zero":false}},"text":{"field":"h"}}},
{"data":{"values":[{"h":"Function"}]},"mark":{"type":"text","align":"center","fontSize":10.5,"fontWeight":"bold","fill":"#222222"},"encoding":{"x":{"datum":379,"type":"quantitative","scale":{"domain":[0,642],"range":[0,642],"nice":false,"zero":false}},"y":{"datum":406.5,"type":"quantitative","scale":{"domain":[0,502],"range":[0,502],"nice":false,"zero":false}},"text":{"field":"h"}}},
{"data":{"values":[{"h":"Function Result"}]},"mark":{"type":"text","align":"center","fontSize":10.5,"fontWeight":"bold","fill":"#222222"},"encoding":{"x":{"datum":523,"type":"quantitative","scale":{"domain":[0,642],"range":[0,642],"nice":false,"zero":false}},"y":{"datum":406.5,"type":"quantitative","scale":{"domain":[0,502],"range":[0,502],"nice":false,"zero":false}},"text":{"field":"h"}}},
{"data":{"name":"markersL"},"layer":[
{"mark":{"type":"text","align":"right","fontSize":10.5,"fill":"#222222"},"encoding":{"x":{"datum":45,"type":"quantitative","scale":{"domain":[0,642],"range":[0,642],"nice":false,"zero":false}},"y":{"field":"m","type":"nominal","scale":{"type":"point","domain":["M1","M2","M3"],"range":[419.5,445.5],"padding":0}},"text":{"field":"m"}}},
{"mark":{"type":"text","align":"right","fontSize":10.5,"fill":"#222222"},"encoding":{"x":{"datum":111,"type":"quantitative","scale":{"domain":[0,642],"range":[0,642],"nice":false,"zero":false}},"y":{"field":"m","type":"nominal","scale":{"type":"point","domain":["M1","M2","M3"],"range":[419.5,445.5],"padding":0}},"text":{"field":"trc"}}},
{"mark":{"type":"text","align":"right","fontSize":10.5,"fill":"#222222"},"encoding":{"x":{"datum":232,"type":"quantitative","scale":{"domain":[0,642],"range":[0,642],"nice":false,"zero":false}},"y":{"field":"m","type":"nominal","scale":{"type":"point","domain":["M1","M2","M3"],"range":[419.5,445.5],"padding":0}},"text":{"field":"xv"}}},
{"mark":{"type":"text","align":"right","fontSize":10.5,"fill":"#222222"},"encoding":{"x":{"datum":332,"type":"quantitative","scale":{"domain":[0,642],"range":[0,642],"nice":false,"zero":false}},"y":{"field":"m","type":"nominal","scale":{"type":"point","domain":["M1","M2","M3"],"range":[419.5,445.5],"padding":0}},"text":{"field":"yv"}}}
]},
{"data":{"values":[{"k":"st1"}]},"mark":{"type":"rect","fill":"#ffffff","stroke":"#9a9a9a","strokeWidth":1,"cornerRadius":5},"encoding":{"x":{"datum":7,"type":"quantitative","scale":{"domain":[0,642],"range":[0,642],"nice":false,"zero":false}},"x2":{"datum":86},"y":{"datum":461,"type":"quantitative","scale":{"domain":[0,502],"range":[0,502],"nice":false,"zero":false}},"y2":{"datum":478}}},
{"data":{"values":[{"k":"st2"}]},"mark":{"type":"rect","fill":"#ffffff","stroke":"#9a9a9a","strokeWidth":1,"cornerRadius":5},"encoding":{"x":{"datum":90,"type":"quantitative","scale":{"domain":[0,642],"range":[0,642],"nice":false,"zero":false}},"x2":{"datum":385},"y":{"datum":461,"type":"quantitative","scale":{"domain":[0,502],"range":[0,502],"nice":false,"zero":false}},"y2":{"datum":478}}},
{"data":{"values":[{"k":"st3"}]},"mark":{"type":"rect","fill":"#e4e4e4"},"encoding":{"x":{"datum":386,"type":"quantitative","scale":{"domain":[0,642],"range":[0,642],"nice":false,"zero":false}},"x2":{"datum":637},"y":{"datum":461,"type":"quantitative","scale":{"domain":[0,502],"range":[0,502],"nice":false,"zero":false}},"y2":{"datum":478}}},
{"data":{"values":[{"t":"Measuring..."}]},"mark":{"type":"text","align":"left","fontSize":10,"fontWeight":"bold","fill":"#f8f8f8"},"encoding":{"x":{"datum":402,"type":"quantitative","scale":{"domain":[0,642],"range":[0,642],"nice":false,"zero":false}},"y":{"datum":469.5,"type":"quantitative","scale":{"domain":[0,502],"range":[0,502],"nice":false,"zero":false}},"text":{"field":"t"}}},
{"data":{"values":[{"k":"prog"}]},"mark":{"type":"rect","fill":"#3c3c3c","cornerRadius":2},"encoding":{"x":{"datum":485,"type":"quantitative","scale":{"domain":[0,642],"range":[0,642],"nice":false,"zero":false}},"x2":{"datum":547},"y":{"datum":465,"type":"quantitative","scale":{"domain":[0,502],"range":[0,502],"nice":false,"zero":false}},"y2":{"datum":474}}},
{"data":{"values":[{"t":"4/4"}]},"mark":{"type":"text","align":"left","fontSize":9,"fontWeight":"bold","fill":"#555555"},"encoding":{"x":{"datum":556,"type":"quantitative","scale":{"domain":[0,642],"range":[0,642],"nice":false,"zero":false}},"y":{"datum":469.5,"type":"quantitative","scale":{"domain":[0,502],"range":[0,502],"nice":false,"zero":false}},"text":{"field":"t"}}}
]},
{"width":639,"height":502,"resolve":{"scale":{"x":"independent","y":"independent"}},"layer":[
{"data":{"values":[{"k":"tab1"}]},"mark":{"type":"rect","fill":"#ffffff","stroke":"#3a3a3a","strokeWidth":1,"cornerRadiusTopLeft":6,"cornerRadiusTopRight":6},"encoding":{"x":{"datum":6,"type":"quantitative","scale":{"domain":[0,642],"range":[2,644],"nice":false,"zero":false}},"x2":{"datum":105},"y":{"datum":11,"type":"quantitative","scale":{"domain":[0,502],"range":[0,502],"nice":false,"zero":false}},"y2":{"datum":33}}},
{"data":{"values":[{"k":"tab2"}]},"mark":{"type":"rect","fill":"#7b7b7b","stroke":"#333333","strokeWidth":1,"cornerRadiusTopLeft":6,"cornerRadiusTopRight":6},"encoding":{"x":{"datum":108,"type":"quantitative","scale":{"domain":[0,642],"range":[2,644],"nice":false,"zero":false}},"x2":{"datum":237},"y":{"datum":13,"type":"quantitative","scale":{"domain":[0,502],"range":[0,502],"nice":false,"zero":false}},"y2":{"datum":33}}},
{"data":{"values":[{"k":"xbtn"}]},"mark":{"type":"rect","fill":"#eeeeee","stroke":"#444444","strokeWidth":1,"cornerRadius":4},"encoding":{"x":{"datum":215,"type":"quantitative","scale":{"domain":[0,642],"range":[2,644],"nice":false,"zero":false}},"x2":{"datum":233},"y":{"datum":16,"type":"quantitative","scale":{"domain":[0,502],"range":[0,502],"nice":false,"zero":false}},"y2":{"datum":29}}},
{"data":{"values":[{"k":"icon"}]},"mark":{"type":"rect","fill":"#ffffff","stroke":"#777777","strokeWidth":1,"cornerRadius":4},"encoding":{"x":{"datum":607,"type":"quantitative","scale":{"domain":[0,642],"range":[2,644],"nice":false,"zero":false}},"x2":{"datum":633},"y":{"datum":9,"type":"quantitative","scale":{"domain":[0,502],"range":[0,502],"nice":false,"zero":false}},"y2":{"datum":33}}},
{"data":{"values":[{"k":"icon2"}]},"mark":{"type":"rect","fill":"#4a4a4a"},"encoding":{"x":{"datum":614,"type":"quantitative","scale":{"domain":[0,642],"range":[2,644],"nice":false,"zero":false}},"x2":{"datum":626},"y":{"datum":13,"type":"quantitative","scale":{"domain":[0,502],"range":[0,502],"nice":false,"zero":false}},"y2":{"datum":18}}},
{"data":{"values":[{"k":"bar"}]},"mark":{"type":"rule","stroke":"#333333","strokeWidth":1},"encoding":{"x":{"datum":237,"type":"quantitative","scale":{"domain":[0,642],"range":[2,644],"nice":false,"zero":false}},"x2":{"datum":607},"y":{"datum":33,"type":"quantitative","scale":{"domain":[0,502],"range":[0,502],"nice":false,"zero":false}}}},
{"data":{"values":[{"t":"Spectrum"}]},"mark":{"type":"text","align":"left","fontSize":14,"fill":"#949494"},"encoding":{"x":{"datum":15,"type":"quantitative","scale":{"domain":[0,642],"range":[2,644],"nice":false,"zero":false}},"y":{"datum":23,"type":"quantitative","scale":{"domain":[0,502],"range":[0,502],"nice":false,"zero":false}},"text":{"field":"t"}}},
{"data":{"values":[{"t":"Spectrum 2"}]},"mark":{"type":"text","align":"left","fontSize":14,"fontWeight":"bold","fill":"#a3a3a3"},"encoding":{"x":{"datum":117,"type":"quantitative","scale":{"domain":[0,642],"range":[2,644],"nice":false,"zero":false}},"y":{"datum":23.5,"type":"quantitative","scale":{"domain":[0,502],"range":[0,502],"nice":false,"zero":false}},"text":{"field":"t"}}},
{"data":{"values":[{"t":"x"}]},"mark":{"type":"text","align":"center","fontSize":10,"fill":"#333333"},"encoding":{"x":{"datum":224,"type":"quantitative","scale":{"domain":[0,642],"range":[2,644],"nice":false,"zero":false}},"y":{"datum":22,"type":"quantitative","scale":{"domain":[0,502],"range":[0,502],"nice":false,"zero":false}},"text":{"field":"t"}}},
{"data":{"values":[{"t":"▽"}]},"mark":{"type":"text","align":"center","fontSize":9,"fill":"#444444"},"encoding":{"x":{"datum":620,"type":"quantitative","scale":{"domain":[0,642],"range":[2,644],"nice":false,"zero":false}},"y":{"datum":26,"type":"quantitative","scale":{"domain":[0,502],"range":[0,502],"nice":false,"zero":false}},"text":{"field":"t"}}},
{"data":{"name":"settings"},"layer":[
{"transform":[{"filter":"datum.grp=='g1'"}],"mark":{"type":"text","align":"left","fontSize":10,"fontWeight":"bold","fill":"#1a1a1a"},"encoding":{"x":{"datum":22,"type":"quantitative","scale":{"domain":[0,642],"range":[2,644],"nice":false,"zero":false}},"y":{"field":"row","type":"nominal","scale":{"type":"point","domain":["r1","r2"],"range":[41,56],"padding":0}},"text":{"field":"label"}}},
{"transform":[{"filter":"datum.grp=='g1'"}],"mark":{"type":"text","align":"right","fontSize":10,"fill":"#1a1a1a"},"encoding":{"x":{"datum":120,"type":"quantitative","scale":{"domain":[0,642],"range":[2,644],"nice":false,"zero":false}},"y":{"field":"row","type":"nominal","scale":{"type":"point","domain":["r1","r2"],"range":[41,56],"padding":0}},"text":{"field":"value"}}},
{"transform":[{"filter":"datum.grp=='g2'"}],"mark":{"type":"text","align":"left","fontSize":10,"fontWeight":"bold","fill":"#1a1a1a"},"encoding":{"x":{"datum":156,"type":"quantitative","scale":{"domain":[0,642],"range":[2,644],"nice":false,"zero":false}},"y":{"field":"row","type":"nominal","scale":{"type":"point","domain":["r1","r2"],"range":[41,56],"padding":0}},"text":{"field":"label"}}},
{"transform":[{"filter":"datum.grp=='g2'"}],"mark":{"type":"text","align":"right","fontSize":10,"fill":"#1a1a1a"},"encoding":{"x":{"datum":241,"type":"quantitative","scale":{"domain":[0,642],"range":[2,644],"nice":false,"zero":false}},"y":{"field":"row","type":"nominal","scale":{"type":"point","domain":["r1","r2"],"range":[41,56],"padding":0}},"text":{"field":"value"}}},
{"transform":[{"filter":"datum.grp=='g3'"}],"mark":{"type":"text","align":"left","fontSize":10,"fontWeight":"bold","fill":"#1a1a1a"},"encoding":{"x":{"datum":262,"type":"quantitative","scale":{"domain":[0,642],"range":[2,644],"nice":false,"zero":false}},"y":{"field":"row","type":"nominal","scale":{"type":"point","domain":["r1","r2"],"range":[41,56],"padding":0}},"text":{"field":"label"}}},
{"transform":[{"filter":"datum.grp=='g3'"}],"mark":{"type":"text","align":"right","fontSize":10,"fill":"#1a1a1a"},"encoding":{"x":{"datum":339,"type":"quantitative","scale":{"domain":[0,642],"range":[2,644],"nice":false,"zero":false}},"y":{"field":"row","type":"nominal","scale":{"type":"point","domain":["r1","r2"],"range":[41,56],"padding":0}},"text":{"field":"value"}}},
{"transform":[{"filter":"datum.grp=='g4'"}],"mark":{"type":"text","align":"left","fontSize":10,"fontWeight":"bold","fill":"#1a1a1a"},"encoding":{"x":{"datum":353,"type":"quantitative","scale":{"domain":[0,642],"range":[2,644],"nice":false,"zero":false}},"y":{"field":"row","type":"nominal","scale":{"type":"point","domain":["r1","r2"],"range":[41,56],"padding":0}},"text":{"field":"label"}}},
{"transform":[{"filter":"datum.grp=='g4'"}],"mark":{"type":"text","align":"left","fontSize":10,"fill":"#1a1a1a"},"encoding":{"x":{"datum":387,"type":"quantitative","scale":{"domain":[0,642],"range":[2,644],"nice":false,"zero":false}},"y":{"field":"row","type":"nominal","scale":{"type":"point","domain":["r1","r2"],"range":[41,56],"padding":0}},"text":{"field":"value"}}},
{"transform":[{"filter":"datum.grp=='g1' && datum.led==1"}],"mark":{"type":"point","filled":true,"size":30,"color":"#4cb04c","opacity":1},"encoding":{"x":{"datum":11,"type":"quantitative","scale":{"domain":[0,642],"range":[2,644],"nice":false,"zero":false}},"y":{"field":"row","type":"nominal","scale":{"type":"point","domain":["r1","r2"],"range":[41,56],"padding":0}}}},
{"transform":[{"filter":"datum.grp=='g2' && datum.led==1"}],"mark":{"type":"point","filled":true,"size":30,"color":"#4cb04c","opacity":1},"encoding":{"x":{"datum":143,"type":"quantitative","scale":{"domain":[0,642],"range":[2,644],"nice":false,"zero":false}},"y":{"field":"row","type":"nominal","scale":{"type":"point","domain":["r1","r2"],"range":[41,56],"padding":0}}}},
{"transform":[{"filter":"datum.grp=='g3' && datum.led==1"}],"mark":{"type":"point","filled":true,"size":30,"color":"#4cb04c","opacity":1},"encoding":{"x":{"datum":251,"type":"quantitative","scale":{"domain":[0,642],"range":[2,644],"nice":false,"zero":false}},"y":{"field":"row","type":"nominal","scale":{"type":"point","domain":["r1","r2"],"range":[41,56],"padding":0}}}}
]},
{"data":{"values":[{"k":"frame"}]},"mark":{"type":"rect","fill":"#ffffff","stroke":"#222222","strokeWidth":1.2,"cornerRadius":4},"encoding":{"x":{"datum":6,"type":"quantitative","scale":{"domain":[0,642],"range":[2,644],"nice":false,"zero":false}},"x2":{"datum":633},"y":{"datum":64,"type":"quantitative","scale":{"domain":[0,502],"range":[0,502],"nice":false,"zero":false}},"y2":{"datum":410}}},
{"data":{"values":[{"t":"1Pk View"}]},"mark":{"type":"text","align":"left","fontSize":10,"fill":"#333333"},"encoding":{"x":{"datum":16,"type":"quantitative","scale":{"domain":[0,642],"range":[2,644],"nice":false,"zero":false}},"y":{"datum":71.5,"type":"quantitative","scale":{"domain":[0,502],"range":[0,502],"nice":false,"zero":false}},"text":{"field":"t"}}},
{"data":{"values":[{"k":"trc1"}]},"mark":{"type":"point","filled":true,"size":40,"color":"#1638ff","opacity":1},"encoding":{"x":{"datum":11,"type":"quantitative","scale":{"domain":[0,642],"range":[2,644],"nice":false,"zero":false}},"y":{"datum":71.5,"type":"quantitative","scale":{"domain":[0,502],"range":[0,502],"nice":false,"zero":false}}}},
{"layer":[
{"data":{"name":"gridVR"},"mark":{"type":"rule","stroke":"#6a6a6a","strokeWidth":1.2},"encoding":{"x":{"field":"f","type":"quantitative","scale":{"domain":[30,10000],"range":[11,633],"nice":false,"zero":false}},"y":{"datum":-70,"type":"quantitative","scale":{"domain":[-70,30],"range":[396,78],"nice":false,"zero":false}},"y2":{"datum":30}}},
{"data":{"name":"gridH"},"mark":{"type":"rule","stroke":"#6a6a6a","strokeWidth":1.2},"encoding":{"x":{"datum":735,"type":"quantitative","scale":{"domain":[30,10000],"range":[11,633],"nice":false,"zero":false}},"x2":{"datum":10000},"y":{"field":"db","type":"quantitative","scale":{"domain":[-70,30],"range":[396,78],"nice":false,"zero":false}}}},
{"data":{"name":"gridH"},"mark":{"type":"text","align":"left","dx":3,"fontSize":10.5,"fill":"#333333"},"encoding":{"x":{"datum":30,"type":"quantitative","scale":{"domain":[30,10000],"range":[11,633],"nice":false,"zero":false}},"y":{"field":"db","type":"quantitative","scale":{"domain":[-70,30],"range":[396,78],"nice":false,"zero":false}},"text":{"field":"lab"}}},
{"data":{"values":[{"k":"readoutbox"}]},"mark":{"type":"rect","fill":"#ffffff"},"encoding":{"x":{"datum":5100,"type":"quantitative","scale":{"domain":[30,10000],"range":[11,633],"nice":false,"zero":false}},"x2":{"datum":10000},"y":{"datum":19.6,"type":"quantitative","scale":{"domain":[-70,30],"range":[396,78],"nice":false,"zero":false}},"y2":{"datum":30}}},
{"data":{"values":[{"k":"border"}]},"mark":{"type":"rect","fill":"transparent","stroke":"#111111","strokeWidth":1.2},"encoding":{"x":{"datum":30,"type":"quantitative","scale":{"domain":[30,10000],"range":[11,633],"nice":false,"zero":false}},"x2":{"datum":10000},"y":{"datum":-70,"type":"quantitative","scale":{"domain":[-70,30],"range":[396,78],"nice":false,"zero":false}},"y2":{"datum":30}}},
{"data":{"name":"dlines"},"mark":{"type":"rule","stroke":"#ff4242","strokeWidth":1.6},"encoding":{"x":{"datum":30,"type":"quantitative","scale":{"domain":[30,10000],"range":[11,633],"nice":false,"zero":false}},"x2":{"datum":10000},"y":{"field":"db","type":"quantitative","scale":{"domain":[-70,30],"range":[396,78],"nice":false,"zero":false}}}},
{"data":{"name":"dlines"},"transform":[{"filter":"datum.d=='D1'"}],"mark":{"type":"text","align":"left","fontSize":10.5,"fill":"#ffffff","stroke":"#ffffff","strokeWidth":7},"encoding":{"x":{"datum":1056,"type":"quantitative","scale":{"domain":[30,10000],"range":[11,633],"nice":false,"zero":false}},"y":{"field":"db","type":"quantitative","scale":{"domain":[-70,30],"range":[396,78],"nice":false,"zero":false}},"text":{"field":"lab"}}},
{"data":{"name":"dlines"},"transform":[{"filter":"datum.d=='D1'"}],"mark":{"type":"text","align":"left","fontSize":10.5,"fill":"#ff3a3a"},"encoding":{"x":{"datum":1056,"type":"quantitative","scale":{"domain":[30,10000],"range":[11,633],"nice":false,"zero":false}},"y":{"field":"db","type":"quantitative","scale":{"domain":[-70,30],"range":[396,78],"nice":false,"zero":false}},"text":{"field":"lab"}}},
{"data":{"name":"dlines"},"transform":[{"filter":"datum.d=='D2'"}],"mark":{"type":"text","align":"left","fontSize":10.5,"fill":"#ffffff","stroke":"#ffffff","strokeWidth":7},"encoding":{"x":{"datum":1457,"type":"quantitative","scale":{"domain":[30,10000],"range":[11,633],"nice":false,"zero":false}},"y":{"field":"db","type":"quantitative","scale":{"domain":[-70,30],"range":[396,78],"nice":false,"zero":false}},"text":{"field":"lab"}}},
{"data":{"name":"dlines"},"transform":[{"filter":"datum.d=='D2'"}],"mark":{"type":"text","align":"left","fontSize":10.5,"fill":"#ff3a3a"},"encoding":{"x":{"datum":1457,"type":"quantitative","scale":{"domain":[30,10000],"range":[11,633],"nice":false,"zero":false}},"y":{"field":"db","type":"quantitative","scale":{"domain":[-70,30],"range":[396,78],"nice":false,"zero":false}},"text":{"field":"lab"}}},
{"data":{"name":"traceR"},"mark":{"type":"area","fill":"#0a14ff","opacity":1},"encoding":{"x":{"field":"f","type":"quantitative","scale":{"domain":[30,10000],"range":[11,633],"nice":false,"zero":false}},"y":{"field":"lo","type":"quantitative","scale":{"domain":[-70,30],"range":[396,78],"nice":false,"zero":false}},"y2":{"field":"hi"}}},
{"data":{"name":"traceR"},"mark":{"type":"line","stroke":"#0a14ff","strokeWidth":1.8},"encoding":{"x":{"field":"f","type":"quantitative","scale":{"domain":[30,10000],"range":[11,633],"nice":false,"zero":false}},"y":{"field":"hi","type":"quantitative","scale":{"domain":[-70,30],"range":[396,78],"nice":false,"zero":false}}}},
{"data":{"name":"traceR"},"mark":{"type":"line","stroke":"#0a14ff","strokeWidth":1.4},"encoding":{"x":{"field":"f","type":"quantitative","scale":{"domain":[30,10000],"range":[11,633],"nice":false,"zero":false}},"y":{"field":"lo","type":"quantitative","scale":{"domain":[-70,30],"range":[396,78],"nice":false,"zero":false}}}},
{"data":{"name":"markersR"},"mark":{"type":"text","text":"▼","fontSize":10,"fill":"#22a0e3","baseline":"alphabetic","dy":1},"encoding":{"x":{"field":"f","type":"quantitative","scale":{"domain":[30,10000],"range":[11,633],"nice":false,"zero":false}},"y":{"field":"db","type":"quantitative","scale":{"domain":[-70,30],"range":[396,78],"nice":false,"zero":false}}}},
{"data":{"name":"markersR"},"mark":{"type":"text","fontSize":10,"fill":"#22a0e3","baseline":"bottom","dy":-8},"encoding":{"x":{"field":"f","type":"quantitative","scale":{"domain":[30,10000],"range":[11,633],"nice":false,"zero":false}},"y":{"field":"db","type":"quantitative","scale":{"domain":[-70,30],"range":[396,78],"nice":false,"zero":false}},"text":{"field":"m"}}}
]},
{"data":{"name":"readoutR"},"layer":[
{"mark":{"type":"text","align":"left","fontSize":9.5,"fontWeight":"bold","fill":"#229ee2"},"encoding":{"x":{"datum":371,"type":"quantitative","scale":{"domain":[0,642],"range":[2,644],"nice":false,"zero":false}},"y":{"field":"line","type":"ordinal","scale":{"type":"point","domain":[1,2],"range":[87,100],"padding":0}},"text":{"field":"lab"}}},
{"mark":{"type":"text","align":"right","fontSize":9.5,"fontWeight":"bold","fill":"#229ee2"},"encoding":{"x":{"datum":628,"type":"quantitative","scale":{"domain":[0,642],"range":[2,644],"nice":false,"zero":false}},"y":{"field":"line","type":"ordinal","scale":{"type":"point","domain":[1,2],"range":[87,100],"padding":0}},"text":{"field":"val"}}}
]},
{"data":{"name":"spanR"},"mark":{"type":"text","align":"left","fontSize":11,"fontWeight":"bold","fill":"#222222"},"encoding":{"x":{"datum":14,"type":"quantitative","scale":{"domain":[0,642],"range":[2,644],"nice":false,"zero":false}},"y":{"datum":403,"type":"quantitative","scale":{"domain":[0,502],"range":[0,502],"nice":false,"zero":false}},"text":{"field":"start"}}},
{"data":{"name":"spanR"},"mark":{"type":"text","align":"center","fontSize":11,"fontWeight":"bold","fill":"#222222"},"encoding":{"x":{"datum":321,"type":"quantitative","scale":{"domain":[0,642],"range":[2,644],"nice":false,"zero":false}},"y":{"datum":403,"type":"quantitative","scale":{"domain":[0,502],"range":[0,502],"nice":false,"zero":false}},"text":{"field":"pts"}}},
{"data":{"name":"spanR"},"mark":{"type":"text","align":"right","fontSize":11,"fontWeight":"bold","fill":"#222222"},"encoding":{"x":{"datum":625,"type":"quantitative","scale":{"domain":[0,642],"range":[2,644],"nice":false,"zero":false}},"y":{"datum":403,"type":"quantitative","scale":{"domain":[0,502],"range":[0,502],"nice":false,"zero":false}},"text":{"field":"stop"}}},
{"data":{"values":[{"k":"mbox"}]},"mark":{"type":"rect","fill":"#ffffff","stroke":"#8a8a8a","strokeWidth":1,"cornerRadius":4},"encoding":{"x":{"datum":6,"type":"quantitative","scale":{"domain":[0,642],"range":[2,644],"nice":false,"zero":false}},"x2":{"datum":633},"y":{"datum":412,"type":"quantitative","scale":{"domain":[0,502],"range":[0,502],"nice":false,"zero":false}},"y2":{"datum":456}}},
{"data":{"values":[{"t":"Marker"}]},"mark":{"type":"text","align":"left","fontSize":11,"fill":"#222222"},"encoding":{"x":{"datum":9,"type":"quantitative","scale":{"domain":[0,642],"range":[2,644],"nice":false,"zero":false}},"y":{"datum":419.5,"type":"quantitative","scale":{"domain":[0,502],"range":[0,502],"nice":false,"zero":false}},"text":{"field":"t"}}},
{"data":{"values":[{"k":"tbl"}]},"mark":{"type":"rect","fill":"#ffffff","stroke":"#9a9a9a","strokeWidth":1},"encoding":{"x":{"datum":10,"type":"quantitative","scale":{"domain":[0,642],"range":[2,644],"nice":false,"zero":false}},"x2":{"datum":628},"y":{"datum":427,"type":"quantitative","scale":{"domain":[0,502],"range":[0,502],"nice":false,"zero":false}},"y2":{"datum":453}}},
{"data":{"values":[{"k":"hline"}]},"mark":{"type":"rule","stroke":"#555555","strokeWidth":1.2},"encoding":{"x":{"datum":10,"type":"quantitative","scale":{"domain":[0,642],"range":[2,644],"nice":false,"zero":false}},"x2":{"datum":628},"y":{"datum":439.5,"type":"quantitative","scale":{"domain":[0,502],"range":[0,502],"nice":false,"zero":false}}}},
{"data":{"values":[{"k":"s1"}]},"mark":{"type":"rule","stroke":"#8a8a8a","strokeWidth":1},"encoding":{"x":{"datum":48.5,"type":"quantitative","scale":{"domain":[0,642],"range":[2,644],"nice":false,"zero":false}},"y":{"datum":427,"type":"quantitative","scale":{"domain":[0,502],"range":[0,502],"nice":false,"zero":false}},"y2":{"datum":453}}},
{"data":{"values":[{"k":"s2"}]},"mark":{"type":"rule","stroke":"#8a8a8a","strokeWidth":1},"encoding":{"x":{"datum":67,"type":"quantitative","scale":{"domain":[0,642],"range":[2,644],"nice":false,"zero":false}},"y":{"datum":427,"type":"quantitative","scale":{"domain":[0,502],"range":[0,502],"nice":false,"zero":false}},"y2":{"datum":453}}},
{"data":{"values":[{"k":"s3"}]},"mark":{"type":"rule","stroke":"#8a8a8a","strokeWidth":1},"encoding":{"x":{"datum":114,"type":"quantitative","scale":{"domain":[0,642],"range":[2,644],"nice":false,"zero":false}},"y":{"datum":427,"type":"quantitative","scale":{"domain":[0,502],"range":[0,502],"nice":false,"zero":false}},"y2":{"datum":453}}},
{"data":{"values":[{"k":"s4"}]},"mark":{"type":"rule","stroke":"#8a8a8a","strokeWidth":1},"encoding":{"x":{"datum":237,"type":"quantitative","scale":{"domain":[0,642],"range":[2,644],"nice":false,"zero":false}},"y":{"datum":427,"type":"quantitative","scale":{"domain":[0,502],"range":[0,502],"nice":false,"zero":false}},"y2":{"datum":453}}},
{"data":{"values":[{"k":"s5"}]},"mark":{"type":"rule","stroke":"#8a8a8a","strokeWidth":1},"encoding":{"x":{"datum":339,"type":"quantitative","scale":{"domain":[0,642],"range":[2,644],"nice":false,"zero":false}},"y":{"datum":427,"type":"quantitative","scale":{"domain":[0,502],"range":[0,502],"nice":false,"zero":false}},"y2":{"datum":453}}},
{"data":{"values":[{"k":"s6"}]},"mark":{"type":"rule","stroke":"#8a8a8a","strokeWidth":1},"encoding":{"x":{"datum":419,"type":"quantitative","scale":{"domain":[0,642],"range":[2,644],"nice":false,"zero":false}},"y":{"datum":427,"type":"quantitative","scale":{"domain":[0,502],"range":[0,502],"nice":false,"zero":false}},"y2":{"datum":453}}},
{"data":{"values":[{"h":"Type"}]},"mark":{"type":"text","align":"center","fontSize":10.5,"fontWeight":"bold","fill":"#222222"},"encoding":{"x":{"datum":29.5,"type":"quantitative","scale":{"domain":[0,642],"range":[2,644],"nice":false,"zero":false}},"y":{"datum":433.5,"type":"quantitative","scale":{"domain":[0,502],"range":[0,502],"nice":false,"zero":false}},"text":{"field":"h"}}},
{"data":{"values":[{"h":"Ref"}]},"mark":{"type":"text","align":"center","fontSize":10.5,"fontWeight":"bold","fill":"#222222"},"encoding":{"x":{"datum":58,"type":"quantitative","scale":{"domain":[0,642],"range":[2,644],"nice":false,"zero":false}},"y":{"datum":433.5,"type":"quantitative","scale":{"domain":[0,502],"range":[0,502],"nice":false,"zero":false}},"text":{"field":"h"}}},
{"data":{"values":[{"h":"Trc"}]},"mark":{"type":"text","align":"center","fontSize":10.5,"fontWeight":"bold","fill":"#222222"},"encoding":{"x":{"datum":90.5,"type":"quantitative","scale":{"domain":[0,642],"range":[2,644],"nice":false,"zero":false}},"y":{"datum":433.5,"type":"quantitative","scale":{"domain":[0,502],"range":[0,502],"nice":false,"zero":false}},"text":{"field":"h"}}},
{"data":{"values":[{"h":"X-value"}]},"mark":{"type":"text","align":"center","fontSize":10.5,"fontWeight":"bold","fill":"#222222"},"encoding":{"x":{"datum":175.5,"type":"quantitative","scale":{"domain":[0,642],"range":[2,644],"nice":false,"zero":false}},"y":{"datum":433.5,"type":"quantitative","scale":{"domain":[0,502],"range":[0,502],"nice":false,"zero":false}},"text":{"field":"h"}}},
{"data":{"values":[{"h":"Y-value"}]},"mark":{"type":"text","align":"center","fontSize":10.5,"fontWeight":"bold","fill":"#222222"},"encoding":{"x":{"datum":288,"type":"quantitative","scale":{"domain":[0,642],"range":[2,644],"nice":false,"zero":false}},"y":{"datum":433.5,"type":"quantitative","scale":{"domain":[0,502],"range":[0,502],"nice":false,"zero":false}},"text":{"field":"h"}}},
{"data":{"values":[{"h":"Function"}]},"mark":{"type":"text","align":"center","fontSize":10.5,"fontWeight":"bold","fill":"#222222"},"encoding":{"x":{"datum":379,"type":"quantitative","scale":{"domain":[0,642],"range":[2,644],"nice":false,"zero":false}},"y":{"datum":433.5,"type":"quantitative","scale":{"domain":[0,502],"range":[0,502],"nice":false,"zero":false}},"text":{"field":"h"}}},
{"data":{"values":[{"h":"Function Result"}]},"mark":{"type":"text","align":"center","fontSize":10.5,"fontWeight":"bold","fill":"#222222"},"encoding":{"x":{"datum":523,"type":"quantitative","scale":{"domain":[0,642],"range":[2,644],"nice":false,"zero":false}},"y":{"datum":433.5,"type":"quantitative","scale":{"domain":[0,502],"range":[0,502],"nice":false,"zero":false}},"text":{"field":"h"}}},
{"data":{"name":"markersR"},"layer":[
{"mark":{"type":"text","align":"right","fontSize":10.5,"fill":"#222222"},"encoding":{"x":{"datum":45,"type":"quantitative","scale":{"domain":[0,642],"range":[2,644],"nice":false,"zero":false}},"y":{"datum":446.5,"type":"quantitative","scale":{"domain":[0,502],"range":[0,502],"nice":false,"zero":false}},"text":{"field":"m"}}},
{"mark":{"type":"text","align":"right","fontSize":10.5,"fill":"#222222"},"encoding":{"x":{"datum":111,"type":"quantitative","scale":{"domain":[0,642],"range":[2,644],"nice":false,"zero":false}},"y":{"datum":446.5,"type":"quantitative","scale":{"domain":[0,502],"range":[0,502],"nice":false,"zero":false}},"text":{"field":"trc"}}},
{"mark":{"type":"text","align":"right","fontSize":10.5,"fill":"#222222"},"encoding":{"x":{"datum":232,"type":"quantitative","scale":{"domain":[0,642],"range":[2,644],"nice":false,"zero":false}},"y":{"datum":446.5,"type":"quantitative","scale":{"domain":[0,502],"range":[0,502],"nice":false,"zero":false}},"text":{"field":"xv"}}},
{"mark":{"type":"text","align":"right","fontSize":10.5,"fill":"#222222"},"encoding":{"x":{"datum":332,"type":"quantitative","scale":{"domain":[0,642],"range":[2,644],"nice":false,"zero":false}},"y":{"datum":446.5,"type":"quantitative","scale":{"domain":[0,502],"range":[0,502],"nice":false,"zero":false}},"text":{"field":"yv"}}}
]},
{"data":{"values":[{"k":"st1"}]},"mark":{"type":"rect","fill":"#ffffff","stroke":"#9a9a9a","strokeWidth":1,"cornerRadius":5},"encoding":{"x":{"datum":7,"type":"quantitative","scale":{"domain":[0,642],"range":[2,644],"nice":false,"zero":false}},"x2":{"datum":86},"y":{"datum":461,"type":"quantitative","scale":{"domain":[0,502],"range":[0,502],"nice":false,"zero":false}},"y2":{"datum":478}}},
{"data":{"values":[{"k":"st2"}]},"mark":{"type":"rect","fill":"#ffffff","stroke":"#9a9a9a","strokeWidth":1,"cornerRadius":5},"encoding":{"x":{"datum":90,"type":"quantitative","scale":{"domain":[0,642],"range":[2,644],"nice":false,"zero":false}},"x2":{"datum":385},"y":{"datum":461,"type":"quantitative","scale":{"domain":[0,502],"range":[0,502],"nice":false,"zero":false}},"y2":{"datum":478}}},
{"data":{"values":[{"k":"st3"}]},"mark":{"type":"rect","fill":"#e4e4e4"},"encoding":{"x":{"datum":386,"type":"quantitative","scale":{"domain":[0,642],"range":[2,644],"nice":false,"zero":false}},"x2":{"datum":635},"y":{"datum":461,"type":"quantitative","scale":{"domain":[0,502],"range":[0,502],"nice":false,"zero":false}},"y2":{"datum":478}}},
{"data":{"values":[{"t":"Measuring..."}]},"mark":{"type":"text","align":"left","fontSize":10,"fontWeight":"bold","fill":"#f8f8f8"},"encoding":{"x":{"datum":402,"type":"quantitative","scale":{"domain":[0,642],"range":[2,644],"nice":false,"zero":false}},"y":{"datum":469.5,"type":"quantitative","scale":{"domain":[0,502],"range":[0,502],"nice":false,"zero":false}},"text":{"field":"t"}}},
{"data":{"values":[{"k":"prog"}]},"mark":{"type":"rect","fill":"#3c3c3c","cornerRadius":2},"encoding":{"x":{"datum":485,"type":"quantitative","scale":{"domain":[0,642],"range":[2,644],"nice":false,"zero":false}},"x2":{"datum":547},"y":{"datum":465,"type":"quantitative","scale":{"domain":[0,502],"range":[0,502],"nice":false,"zero":false}},"y2":{"datum":474}}},
{"data":{"values":[{"t":"4/4"}]},"mark":{"type":"text","align":"left","fontSize":9,"fontWeight":"bold","fill":"#555555"},"encoding":{"x":{"datum":556,"type":"quantitative","scale":{"domain":[0,642],"range":[2,644],"nice":false,"zero":false}},"y":{"datum":469.5,"type":"quantitative","scale":{"domain":[0,502],"range":[0,502],"nice":false,"zero":false}},"text":{"field":"t"}}}
]}
],"spacing":0,"bounds":"flush"}
]
}
